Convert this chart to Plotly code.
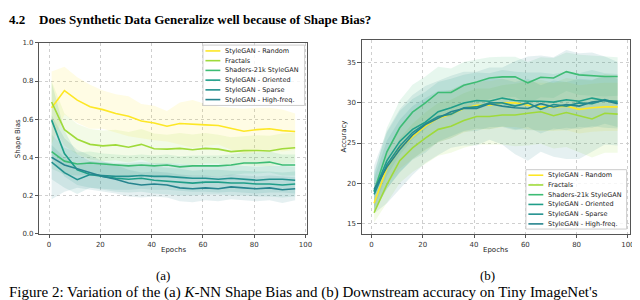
import plotly.graph_objects as go

# ---------------- data ----------------
epochs = list(range(1, 97, 5))
series_names = ["StyleGAN - Random", "Fractals", "Shaders-21k StyleGAN",
                "StyleGAN - Oriented", "StyleGAN - Sparse", "StyleGAN - High-freq."]

# (a) K-NN shape bias
sb_random = [0.66, 0.75, 0.70, 0.665, 0.65, 0.63, 0.615, 0.59, 0.58, 0.563, 0.577, 0.575, 0.57, 0.567, 0.55, 0.537, 0.545, 0.55, 0.54, 0.535]
sb_random_sd = [0.19, 0.125, 0.12, 0.115, 0.10, 0.10, 0.105, 0.09, 0.09, 0.08, 0.11, 0.125, 0.11, 0.10, 0.11, 0.118, 0.115, 0.11, 0.11, 0.095]
sb_fractals = [0.69, 0.545, 0.495, 0.468, 0.46, 0.465, 0.453, 0.468, 0.445, 0.443, 0.447, 0.44, 0.447, 0.443, 0.43, 0.435, 0.436, 0.433, 0.445, 0.45]
sb_fractals_sd = [0.11, 0.085, 0.08, 0.08, 0.08, 0.08, 0.08, 0.08, 0.08, 0.075, 0.08, 0.08, 0.08, 0.075, 0.075, 0.075, 0.08, 0.08, 0.08, 0.08]
sb_shaders = [0.43, 0.38, 0.365, 0.37, 0.365, 0.36, 0.355, 0.36, 0.355, 0.36, 0.35, 0.355, 0.355, 0.355, 0.36, 0.37, 0.37, 0.375, 0.36, 0.36]
sb_shaders_sd = [0.09, 0.07, 0.06, 0.06, 0.055, 0.055, 0.055, 0.055, 0.055, 0.055, 0.055, 0.055, 0.055, 0.055, 0.055, 0.055, 0.055, 0.055, 0.055, 0.055]
sb_oriented = [0.595, 0.42, 0.335, 0.31, 0.30, 0.29, 0.285, 0.29, 0.28, 0.275, 0.27, 0.265, 0.27, 0.27, 0.265, 0.265, 0.26, 0.26, 0.255, 0.26]
sb_oriented_sd = [0.2, 0.12, 0.08, 0.07, 0.07, 0.07, 0.07, 0.07, 0.07, 0.07, 0.07, 0.065, 0.065, 0.065, 0.065, 0.065, 0.065, 0.065, 0.065, 0.065]
sb_sparse = [0.375, 0.32, 0.283, 0.31, 0.305, 0.30, 0.30, 0.305, 0.30, 0.30, 0.295, 0.29, 0.29, 0.285, 0.29, 0.285, 0.28, 0.285, 0.285, 0.28]
sb_sparse_sd = [0.09, 0.08, 0.075, 0.07, 0.07, 0.07, 0.07, 0.07, 0.07, 0.07, 0.07, 0.07, 0.07, 0.07, 0.07, 0.07, 0.07, 0.07, 0.07, 0.07]
sb_highfreq = [0.40, 0.36, 0.34, 0.32, 0.30, 0.285, 0.265, 0.255, 0.26, 0.255, 0.24, 0.235, 0.24, 0.235, 0.245, 0.24, 0.235, 0.24, 0.23, 0.235]
sb_highfreq_sd = [0.22, 0.14, 0.10, 0.09, 0.08, 0.075, 0.07, 0.065, 0.065, 0.065, 0.07, 0.07, 0.065, 0.065, 0.065, 0.065, 0.065, 0.065, 0.07, 0.06]

# (b) downstream accuracy
acc_random = [17.5, 21.9, 24.3, 25.8, 27.1, 28.1, 28.6, 29.3, 29.7, 29.7, 30.0, 30.0, 29.7, 29.5, 29.5, 29.6, 29.2, 29.4, 29.5, 29.5]
acc_random_sd = [1.2, 2.0, 2.5, 2.8, 3.0, 3.0, 3.0, 3.0, 3.0, 3.0, 3.0, 3.0, 3.0, 3.0, 3.0, 3.0, 3.0, 3.0, 3.0, 3.0]
acc_fractals = [16.3, 19.8, 22.8, 24.4, 25.6, 26.7, 27.1, 27.8, 28.3, 28.3, 28.5, 28.5, 28.7, 28.9, 28.4, 28.8, 28.4, 28.0, 28.7, 28.6]
acc_fractals_sd = [1.2, 2.2, 2.8, 3.0, 3.2, 3.3, 3.3, 3.4, 3.5, 3.5, 3.7, 3.9, 4.0, 4.0, 4.1, 4.3, 4.5, 4.8, 4.9, 4.8]
acc_shaders = [19.0, 23.9, 26.9, 28.85, 30.0, 31.3, 31.3, 32.2, 32.6, 33.1, 33.25, 33.25, 32.5, 33.2, 33.1, 33.9, 33.5, 33.4, 33.3, 33.3]
acc_shaders_sd = [2.0, 3.0, 3.4, 3.4, 3.3, 3.2, 3.0, 2.9, 2.8, 2.6, 2.5, 2.5, 2.6, 2.5, 2.5, 2.4, 2.5, 2.5, 2.5, 2.4]
acc_oriented = [18.9, 22.8, 25.2, 26.7, 27.6, 28.9, 29.4, 30.0, 30.3, 30.2, 30.6, 30.3, 30.2, 30.2, 30.1, 30.4, 30.2, 30.6, 30.3, 30.2]
acc_oriented_sd = [2.5, 3.5, 3.8, 3.8, 3.8, 3.7, 3.6, 3.5, 3.5, 3.5, 3.5, 3.6, 3.6, 3.6, 3.5, 3.5, 3.5, 3.5, 3.4, 3.4]
acc_sparse = [18.6, 22.3, 24.6, 26.3, 27.4, 28.3, 28.6, 29.4, 29.5, 30.0, 30.0, 29.6, 30.0, 29.2, 29.8, 29.6, 30.0, 29.9, 30.4, 30.0]
acc_sparse_sd = [2.0, 3.0, 3.3, 3.3, 3.2, 3.2, 3.0, 3.0, 3.0, 3.0, 3.0, 3.0, 3.0, 3.0, 3.0, 3.0, 3.0, 3.0, 3.0, 3.0]
acc_highfreq = [19.2, 22.0, 24.2, 26.0, 27.3, 28.1, 28.9, 29.3, 29.3, 29.9, 29.6, 29.4, 29.3, 29.9, 29.5, 29.8, 29.6, 30.1, 30.3, 29.9]
acc_highfreq_sd = [3.0, 4.5, 5.0, 5.0, 4.8, 4.6, 4.5, 4.6, 4.6, 4.5, 4.8, 5.8, 6.5, 6.0, 6.2, 6.8, 6.6, 6.2, 5.5, 5.2]

yticks_a = [0.0, 0.2, 0.4, 0.6, 0.8, 1.0]
yticks_b = [15, 20, 25, 30, 35]
xticks = [0, 20, 40, 60, 80, 100]

# ---------------- styling ----------------
colors = ["#fde725", "#9fda3a", "#3dbc74", "#1f9e89", "#23918f", "#26848e"]
W, H = 640, 300


def px(x):
    return x / W


def py(y):
    return 1 - y / H


def rgba(hexc, a):
    h = hexc.lstrip("#")
    return "rgba(%d,%d,%d,%.3f)" % (int(h[0:2], 16), int(h[2:4], 16), int(h[4:6], 16), a)


panel_a = [(sb_random, sb_random_sd), (sb_fractals, sb_fractals_sd), (sb_shaders, sb_shaders_sd),
           (sb_oriented, sb_oriented_sd), (sb_sparse, sb_sparse_sd), (sb_highfreq, sb_highfreq_sd)]
panel_b = [(acc_random, acc_random_sd), (acc_fractals, acc_fractals_sd), (acc_shaders, acc_shaders_sd),
           (acc_oriented, acc_oriented_sd), (acc_sparse, acc_sparse_sd), (acc_highfreq, acc_highfreq_sd)]

fig = go.Figure()

for panel, xa, ya in [(panel_a, "x", "y"), (panel_b, "x2", "y2")]:
    # bands first
    for (m, sd), c in zip(panel, colors):
        upper = [a + b for a, b in zip(m, sd)]
        lower = [a - b for a, b in zip(m, sd)]
        fig.add_trace(go.Scatter(x=epochs + epochs[::-1], y=upper + lower[::-1],
                                 fill="toself", fillcolor=rgba(c, 0.12), line=dict(width=0),
                                 mode="lines", hoverinfo="skip", showlegend=False,
                                 xaxis=xa, yaxis=ya))
    for (m, sd), c, n in zip(panel, colors, series_names):
        fig.add_trace(go.Scatter(x=epochs, y=m, mode="lines", name=n,
                                 line=dict(color=c, width=1.6), showlegend=False,
                                 xaxis=xa, yaxis=ya))

tickfont = dict(family="DejaVu Sans", size=7, color="#333333")
axis_common = dict(showline=True, mirror=True, linecolor="#555555", linewidth=1,
                   ticks="outside", ticklen=3.5, tickwidth=0.8, tickcolor="#555555",
                   showgrid=True, gridcolor="#cfcfcf", griddash="dot", gridwidth=0.8,
                   zeroline=False, tickfont=tickfont)

fig.update_layout(
    width=W, height=H, margin=dict(l=0, r=0, t=0, b=0),
    paper_bgcolor="white", plot_bgcolor="white", showlegend=False,
    xaxis=dict(domain=[px(31.7), px(301.7)], range=[-3.75, 100.75], tickvals=xticks, anchor="y", **axis_common),
    yaxis=dict(domain=[py(227.7), py(31.7)], range=[0, 1.0], tickvals=yticks_a, tickformat=".1f", anchor="x", **axis_common),
    xaxis2=dict(domain=[px(356.7), px(626.7)], range=[-3.75, 100.75], tickvals=xticks, anchor="y2", **axis_common),
    yaxis2=dict(domain=[py(227.7), py(28.3)], range=[13.7, 37.9], tickvals=yticks_b, anchor="x2", **axis_common),
)

annotations = []
shapes = []

def text(x, y, s, size, family="DejaVu Sans", xanchor="center", angle=0, color="#222222"):
    annotations.append(dict(x=px(x), y=py(y), xref="paper", yref="paper", text=s, showarrow=False,
                            xanchor=xanchor, yanchor="middle", textangle=angle, borderpad=0,
                            font=dict(family=family, size=size, color=color)))

# heading, captions, figure caption
serif = "Liberation Serif"
text(0, 8, "<b>4.2</b>", 13, serif, "left", color="black")
text(30, 8, "<b>Does Synthetic Data Generalize well because of Shape Bias?</b>", 13, serif, "left", color="black")
text(156.7, 271, "(a)", 13, serif, color="black")
text(483.3, 271, "(b)", 13, serif, color="black")
text(0, 288.5, "Figure 2: Variation of the (a) <i>K</i>-NN Shape Bias and (b) Downstream accuracy on Tiny ImageNet's",
     15, serif, "left", color="black")

# axis titles
text(10, 129.7, "Shape Bias", 7, angle=-90)
text(166.7, 245, "Epochs", 7)
text(338.5, 128, "Accuracy", 7, angle=-90)
text(491.7, 245, "Epochs", 7)

# legends (matplotlib-style, compact)
def legend(x0, y0, x1, y1, row0):
    shapes.append(dict(type="rect", xref="paper", yref="paper", x0=px(x0), x1=px(x1), y0=py(y1), y1=py(y0),
                       fillcolor="rgba(255,255,255,0.8)", line=dict(color="#cccccc", width=1), layer="above"))
    for i, (n, c) in enumerate(zip(series_names, colors)):
        yy = row0 + i * 10.0
        shapes.append(dict(type="line", xref="paper", yref="paper", x0=px(x0 + 2.5), x1=px(x0 + 17.5),
                           y0=py(yy), y1=py(yy), line=dict(color=c, width=1.6), layer="above"))
        text(x0 + 21, yy, n, 6.5, xanchor="left")

legend(196.5, 34, 299, 96, 40)
legend(522, 162, 623.5, 223, 167.7)

fig.update_layout(annotations=annotations, shapes=shapes)
fig.write_html("out.html")
